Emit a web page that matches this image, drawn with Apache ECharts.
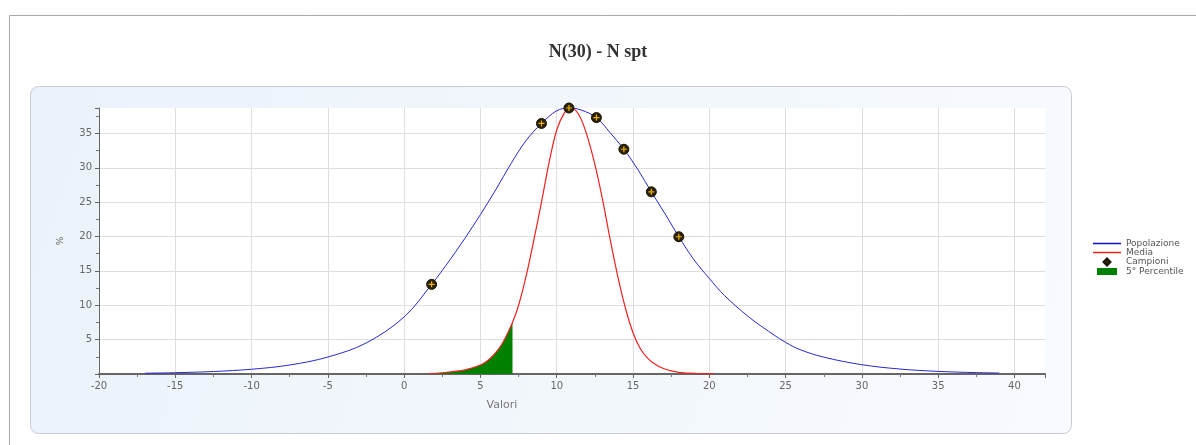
<!DOCTYPE html>
<html>
<head>
<meta charset="utf-8">
<script src="https://cdn.jsdelivr.net/npm/echarts@6/dist/echarts.min.js"></script>
<style>
html,body{margin:0;padding:0;background:#fff;}
#chart{width:1196px;height:445px;}
</style>
</head>
<body>
<div id="chart"></div>
<script>
const titleText = 'N(30) - N spt';
const xAxisName = 'Valori';
const yAxisName = '%';
const legendNames = ['Popolazione', 'Media', 'Campioni', '5° Percentile'];

// Popolazione curve
const popX = [-17, -15, -12.5, -10, -7.5, -5, -2.5, 0, 1.8, 3, 4, 5, 6, 7, 8, 9, 10, 10.8, 11.6, 12.6, 13.5, 14.4, 15.3, 16.2, 17.1, 18, 19, 20, 21, 22.5, 23.5, 25, 26, 27.5, 30, 32.5, 35, 37.5, 39];
const popY = [0.11, 0.19, 0.36, 0.69, 1.31, 2.47, 4.5, 8.3, 13.04, 16.6, 19.8, 23.2, 26.8, 30.6, 34.0, 36.45, 38.3, 38.7, 38.4, 37.3, 35.1, 32.7, 29.8, 26.5, 23.3, 19.97, 16.6, 13.9, 11.4, 8.45, 6.8, 4.6, 3.5, 2.45, 1.35, 0.72, 0.38, 0.2, 0.14];

// Media curve
const mediaX = [1.6, 2.5, 3.2, 4, 5, 5.5, 6, 6.5, 7.1, 7.5, 8, 8.5, 9, 9.5, 10, 10.5, 10.9, 11.4, 11.9, 12.5, 13, 13.5, 14, 14.5, 15, 15.5, 16, 16.5, 17, 17.5, 18, 19, 20.3];
const mediaY = [0.05, 0.18, 0.35, 0.6, 1.3, 2.0, 3.1, 4.7, 7.5, 10.0, 14.3, 19.5, 25.0, 30.8, 35.5, 38.0, 38.7, 37.9, 35.3, 30.5, 25.4, 19.6, 14.2, 9.6, 6.0, 3.6, 2.2, 1.35, 0.8, 0.45, 0.25, 0.08, 0.02];

// Campioni (samples)
const sampleX = [1.8, 9.0, 10.8, 12.6, 14.4, 16.2, 18.0];
const sampleY = [13.04, 36.45, 38.7, 37.3, 32.7, 26.5, 19.97];

// 5° percentile limit
const percentileLimit = 7.1;

// axis ranges / ticks
const xMin = -20, xMax = 42, xStep = 5;
const yMin = 0, yMax = 38.7, yStep = 5;

const zip = (xs, ys) => xs.map((x, i) => [x, ys[i]]);
const popData = zip(popX, popY);
const mediaData = zip(mediaX, mediaY);
const pctData = mediaData.filter(p => p[0] <= percentileLimit);
const sampleData = zip(sampleX, sampleY);

const chart = echarts.init(document.getElementById('chart'), null, {renderer: 'canvas'});
const labelFont = 'DejaVu Sans';
const lineIcon = 'path://M0,0L0,0ZM0,3.2H28V4.8H0ZM28,8L28,8Z';

chart.setOption({
  animation: false,
  backgroundColor: '#ffffff',
  graphic: [
    {type: 'rect', z: -10, silent: true,
     shape: {x: 9.5, y: 15.5, width: 1300, height: 600},
     style: {fill: '#ffffff', stroke: '#a8a8a8', lineWidth: 1}},
    {type: 'rect', z: -9, silent: true,
     shape: {x: 30.5, y: 86.5, width: 1041, height: 347, r: 8},
     style: {
       fill: new echarts.graphic.LinearGradient(0, 0, 1, 1, [
         {offset: 0, color: '#ebf2fa'}, {offset: 1, color: '#f8fbfe'}]),
       stroke: '#c8ccd2', lineWidth: 1}}
  ],
  title: {
    text: titleText, left: 'center', top: 38,
    textStyle: {fontFamily: 'Liberation Serif', fontSize: 18, fontWeight: 'bold', color: '#333'}
  },
  legend: {
    orient: 'vertical', left: 1092, top: 239, padding: 0,
    itemWidth: 28, itemHeight: 8, itemGap: 0,
    textStyle: {fontFamily: labelFont, fontSize: 9, color: '#555'},
    data: [
      {name: legendNames[0], icon: lineIcon},
      {name: legendNames[1], icon: lineIcon},
      {name: legendNames[2], icon: 'path://M0,0L0,0ZM10.5,4L14,0.5L17.5,4L14,7.5ZM28,8L28,8Z'},
      {name: legendNames[3], icon: 'path://M0,0L0,0ZM4,0.5H24V7.5H4ZM28,8L28,8Z'}
    ]
  },
  grid: {left: 99, right: 151, top: 108, bottom: 71, show: true, backgroundColor: '#ffffff', borderWidth: 0},
  xAxis: {
    type: 'value', min: xMin, max: xMax, interval: xStep,
    name: xAxisName, nameLocation: 'middle', nameGap: 26,
    nameTextStyle: {fontFamily: labelFont, fontSize: 11, color: '#777', padding: [0, 140, 0, 0]},
    axisLine: {show: true, onZero: false, lineStyle: {color: '#666', width: 2}},
    axisTick: {show: true, length: 4, lineStyle: {color: '#666', width: 1}},
    minorTick: {show: true, splitNumber: 2, length: 3, lineStyle: {color: '#777'}},
    axisLabel: {fontFamily: labelFont, fontSize: 10, color: '#666', margin: 7, showMaxLabel: false},
    splitLine: {show: true, showMaxLine: false, lineStyle: {color: '#dedede', width: 1}}
  },
  yAxis: {
    type: 'value', min: yMin, max: yMax, interval: yStep,
    name: yAxisName, nameLocation: 'middle', nameGap: 34, nameRotate: 90,
    nameTextStyle: {fontFamily: labelFont, fontSize: 9, color: '#666'},
    axisLine: {show: true, onZero: false, lineStyle: {color: '#666', width: 1}},
    axisTick: {show: true, length: 4, lineStyle: {color: '#666'}},
    minorTick: {show: true, splitNumber: 2, length: 3, lineStyle: {color: '#777'}},
    axisLabel: {fontFamily: labelFont, fontSize: 10, color: '#666', margin: 7, showMinLabel: false, showMaxLabel: false},
    splitLine: {show: true, showMinLine: false, showMaxLine: false, lineStyle: {color: '#dedede', width: 1}}
  },
  series: [
    {
      name: legendNames[3], type: 'line', data: pctData, smooth: 0.35,
      symbol: 'none', lineStyle: {width: 0, color: '#008000'}, itemStyle: {color: '#008000'},
      areaStyle: {color: '#008000', opacity: 1}, z: 1
    },
    {
      name: legendNames[1], type: 'line', data: mediaData, smooth: 0.35,
      symbol: 'none', lineStyle: {width: 1.2, color: '#ee2020'}, itemStyle: {color: '#ee2020'}, z: 2
    },
    {
      name: legendNames[0], type: 'line', data: popData, smooth: 0.35,
      symbol: 'none', lineStyle: {width: 1, color: '#2828cc'}, itemStyle: {color: '#1010c0'}, z: 3
    },
    {
      name: legendNames[2], type: 'scatter', data: sampleData, symbol: 'circle', symbolSize: 10,
      symbolKeepAspect: true,
      itemStyle: {color: '#2b2208', borderColor: '#1a1400', borderWidth: 1, opacity: 1}, z: 4
    },
    {
      name: 'Campioni-marker', type: 'scatter', data: sampleData,
      symbol: 'path://M4,0H6V4H10V6H6V10H4V6H0V4H4Z', symbolSize: 6,
      itemStyle: {color: '#f2b400', opacity: 1}, z: 5, silent: true
    }
  ]
});
</script>
</body>
</html>
